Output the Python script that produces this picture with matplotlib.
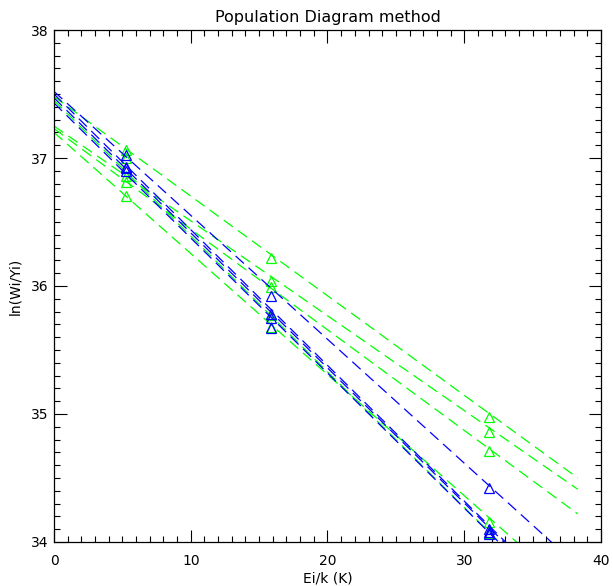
import numpy as np
import matplotlib
matplotlib.use("Agg")
import matplotlib.pyplot as plt
from matplotlib.ticker import MultipleLocator

# ---- data ----
x_levels = [5.3, 15.9, 31.8]

green_points = [
    [37.06, 36.22, 34.98],
    [36.86, 36.04, 34.86],
    [36.81, 35.99, 34.71],
    [36.70, 35.68, 34.16],
    [37.00, 35.77, 34.07],
]
green_intercepts = [37.48, 37.25, 37.23, 37.20, 37.45]
green_slopes = [-0.0778, -0.0741, -0.0786, -0.0946, -0.1060]

blue_points = [
    [37.02, 35.92, 34.42],
    [36.93, 35.78, 34.10],
    [36.92, 35.75, 34.08],
    [36.90, 35.67, 34.06],
]
blue_intercepts = [37.52, 37.50, 37.47, 37.43]
blue_slopes = [-0.0968, -0.1060, -0.1055, -0.1055]

line_x_range = [0.0, 38.3]

title = "Population Diagram method"
xlabel = "Ei/k (K)"
ylabel = "ln(Wi/Yi)"
xticks = [0, 10, 20, 30, 40]
yticks = [34, 35, 36, 37, 38]

# ---- drawing ----
GREEN = "#00ff00"
BLUE = "#0000ff"

fig = plt.figure(figsize=(6.13, 5.86), dpi=100)
ax = fig.add_axes([0.0881, 0.0751, 0.8923, 0.8737])

xl = np.linspace(line_x_range[0], line_x_range[1], 200)
dash = (0, (9, 5))

for b, m in zip(green_intercepts, green_slopes):
    ax.plot(xl, b + m * xl, color=GREEN, lw=0.9, linestyle=dash)
for pts in green_points:
    ax.plot(x_levels, pts, linestyle="none", marker="^", ms=7,
            mfc="none", mec=GREEN, mew=0.9)

for b, m in zip(blue_intercepts, blue_slopes):
    ax.plot(xl, b + m * xl, color=BLUE, lw=0.9, linestyle=dash)
for pts in blue_points:
    ax.plot(x_levels, pts, linestyle="none", marker="^", ms=7,
            mfc="none", mec=BLUE, mew=0.9)

ax.set_xlim(0, 40)
ax.set_ylim(34, 38)
ax.set_xticks(xticks)
ax.set_yticks(yticks)
ax.xaxis.set_minor_locator(MultipleLocator(1))
ax.yaxis.set_minor_locator(MultipleLocator(0.1))
ax.tick_params(which="both", direction="in", top=True, right=True,
               width=0.8, color="black")
ax.tick_params(which="major", length=9, labelsize=10)
ax.tick_params(which="minor", length=4.5)
ax.tick_params(axis="x", which="major", pad=9)
ax.tick_params(axis="y", which="major", pad=4)
for s in ax.spines.values():
    s.set_linewidth(0.9)

ax.set_title(title, fontsize=11.5, pad=6)
ax.set_xlabel(xlabel, fontsize=10, labelpad=2)
ax.set_ylabel(ylabel, fontsize=10, labelpad=6)

fig.savefig("out.png", dpi=100)
